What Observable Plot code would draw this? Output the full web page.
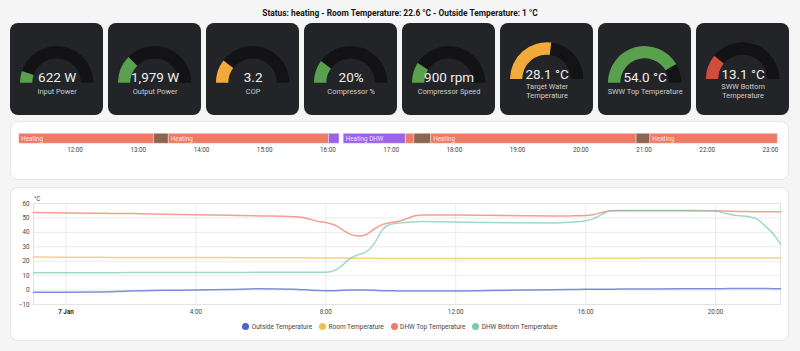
<!DOCTYPE html>
<html><head><meta charset="utf-8">
<script src="https://cdn.jsdelivr.net/npm/d3@7"></script>
<script src="https://cdn.jsdelivr.net/npm/@observablehq/plot@0.6"></script>
<style>
html,body{margin:0;padding:0;}
body{width:800px;height:351px;background:#f5f5f5;font-family:Roboto,sans-serif;position:relative;overflow:hidden;}
#title{position:absolute;left:0;top:8px;width:800px;text-align:center;font-size:8.4px;line-height:10px;font-weight:700;color:#141414;}
#gauges{position:absolute;left:10px;top:23px;width:779px;height:92px;display:grid;grid-template-columns:repeat(8,1fr);column-gap:4.7px;}
.gcard{background:#232428;border-radius:8px;overflow:hidden;height:92px;}
.gcard svg{display:block;}
.panel{position:absolute;left:10px;width:779px;background:#fff;border:1px solid #e6e6e6;border-radius:8px;box-sizing:border-box;}
#tlp{top:121px;height:58.5px;}
#lcp{top:187px;height:154px;}
#timeline,#linechart{position:absolute;left:0;}
#timeline{top:121px}
#linechart{top:187px}
#legend{position:absolute;top:322.5px;left:0;width:800px;display:flex;justify-content:center;gap:7px;font-size:6.5px;line-height:8px;color:#444;}
.li{display:flex;align-items:center;gap:2.3px;}
.dot{width:7px;height:7px;border-radius:50%;}
</style></head>
<body>
<div id="title"></div>
<div id="gauges"></div>
<div class="panel" id="tlp"></div>
<div class="panel" id="lcp"></div>
<div id="timeline"></div>
<div id="linechart"></div>
<div id="legend"></div>
<script>
// ---------- data ----------
const titleText = "Status: heating - Room Temperature: 22.6 °C - Outside Temperature: 1 °C";

const gaugeLabels = ["Input Power", "Output Power", "COP", "Compressor %", "Compressor Speed", "Target Water\nTemperature", "SWW Top Temperature", "SWW Bottom\nTemperature"];
const gaugeValues = [622, 1979, 3.2, 20, 900, 28.1, 54.0, 13.1];
const gaugeMax = [6000, 8000, 15.5, 100, 5000, 52, 65, 60];
const gaugeDecimals = [0, 0, 1, 0, 0, 1, 1, 1];
const gaugeUnits = [" W", " W", "", "%", " rpm", " °C", " °C", " °C"];
const gaugeColors = ["#59a14f", "#59a14f", "#f2aa3a", "#59a14f", "#59a14f", "#f2aa3a", "#59a14f", "#d24b3c"];

const timelineStart = ["11:07", "13:15", "13:29", "16:01", "16:15", "17:14", "17:22", "17:38", "20:53", "21:06"];
const timelineEnd   = ["13:15", "13:29", "16:01", "16:11", "17:14", "17:22", "17:38", "20:53", "21:06", "23:07"];
const timelineState = ["Heating", "Defrosting", "Heating", "Heating DHW", "Heating DHW", "Heating", "Defrosting", "Heating", "Defrosting", "Heating"];
const stateNames = ["Heating", "Heating DHW", "Defrosting"];
const stateColors = ["#ee7a65", "#9c63ea", "#8d6550"];
const timelineTicks = ["12:00","13:00","14:00","15:00","16:00","17:00","18:00","19:00","20:00","21:00","22:00","23:00"];

const seriesNames = ["Outside Temperature", "Room Temperature", "DHW Top Temperature", "DHW Bottom Temperature"];
const seriesColors = ["#4a64d2", "#f1c14e", "#ef7a66", "#7ccbae"];
// hours relative to 7 Jan 00:00
const hours = [-1, 0, 1, 2, 3, 4, 5, 6, 7, 7.25, 7.5, 7.75, 8, 8.25, 8.5, 8.75, 9, 9.25, 9.5, 9.75, 10, 10.25, 10.5, 10.75, 11, 12, 13, 14, 15, 15.5, 16, 16.25, 16.5, 16.75, 17, 18, 19, 20, 20.25, 20.5, 20.75, 21, 21.25, 21.5, 21.75, 22];
const outsideTemp = [-1.5, -1.5, -1.3, -0.6, -0.2, 0, 0.4, 0.9, 0.6, 0.3, 0, -0.3, -0.5, -0.4, -0.2, 0, 0, 0, -0.2, -0.4, -0.5, -0.6, -0.6, -0.6, -0.6, -0.6, -0.3, 0, 0.3, 0.4, 0.5, 0.5, 0.6, 0.6, 0.7, 0.8, 0.9, 1, 1, 1.1, 1.1, 1.1, 1.1, 1.1, 1, 1];
const roomTemp = [23, 22.8, 22.7, 22.6, 22.6, 22.5, 22.5, 22.4, 22.4, 22.4, 22.3, 22.3, 22.3, 22.2, 22.2, 22.1, 22.1, 22, 22, 21.9, 21.9, 21.8, 21.8, 21.8, 21.8, 21.8, 21.8, 21.8, 21.9, 21.9, 21.9, 22, 22, 22, 22, 22.2, 22.3, 22.3, 22.3, 22.3, 22.3, 22.3, 22.3, 22.3, 22.3, 22.3];
const dhwTop = [53.8, 53.5, 53.2, 53, 52.6, 52.2, 51.8, 51.4, 50.9, 50.5, 49.2, 47.6, 46.8, 45.3, 42, 38.8, 37.4, 38.5, 42.5, 45.5, 46.8, 47.7, 49.5, 51.5, 52, 52, 51.8, 51.5, 51.3, 51.4, 51.6, 52.3, 53.8, 55, 55.2, 55.2, 55.1, 55, 54.8, 54.6, 54.5, 54.4, 54.3, 54.3, 54.2, 54.2];
const dhwBottom = [12, 12, 12, 12.1, 12.1, 12.2, 12.2, 12.3, 12.3, 12.3, 12.3, 12.3, 12.4, 13.5, 17, 22, 24.6, 26.5, 32.5, 42, 45.6, 46.4, 47, 47.4, 47.5, 47.1, 46.8, 46.6, 46.5, 47, 48, 49.5, 52.5, 54.8, 55, 55, 54.9, 54.8, 53.5, 52.2, 51.5, 51, 49.5, 45, 39.5, 32];
const yTicks = [-10, 0, 10, 20, 30, 40, 50, 60];
const xTickHours = [0, 4, 8, 12, 16, 20];
const lineDomainHours = [-1, 22];

// ---------- helpers ----------
const base = new Date(2024, 0, 7, 0, 0);
const atHour = h => new Date(base.getTime() + h * 3600e3);
const atClock = s => { const [h, m] = s.split(":").map(Number); return new Date(2024, 0, 7, h, m); };
const fontFamily = "Roboto, sans-serif";

document.getElementById("title").textContent = titleText;

// ---------- gauges ----------
const gaugesDiv = document.getElementById("gauges");
gaugeLabels.forEach((label, i) => {
  const card = document.createElement("div");
  card.className = "gcard";
  gaugesDiv.appendChild(card);
  const W = 93.26, H = 92;
  const lines = label.split("\n").length;
  const shift = lines > 1 ? -3.7 : 0;
  const cy = 59.7 + shift;
  const angle = d3.scaleLinear([0, gaugeMax[i]], [-Math.PI / 2, Math.PI / 2]).clamp(true);
  const arc = d3.arc().innerRadius(24.3).outerRadius(36.7);
  const fmt = d3.format(gaugeDecimals[i] ? `,.${gaugeDecimals[i]}f` : ",");
  const gaugeMark = () => {
    const g = d3.create("svg:g").attr("transform", `translate(${W / 2},${cy})`);
    g.append("path").attr("d", arc({startAngle: -Math.PI / 2, endAngle: Math.PI / 2})).attr("fill", "#131315");
    g.append("path").attr("d", arc({startAngle: -Math.PI / 2, endAngle: angle(gaugeValues[i])})).attr("fill", gaugeColors[i]);
    return g.node();
  };
  const p = Plot.plot({
    width: W, height: H, margin: 0,
    style: {background: "transparent", fontFamily, overflow: "visible"},
    marks: [
      gaugeMark,
      Plot.text([fmt(gaugeValues[i]) + gaugeUnits[i]], {frameAnchor: "top", dy: 59 + shift, lineAnchor: "bottom", fill: "#eeeeee", fontSize: 13.5}),
      Plot.text([label], {frameAnchor: "top", dy: lines > 1 ? 74.3 : 70.3, lineAnchor: "bottom", lineHeight: 1.15, fill: "#cfcfcf", fontSize: 7.4})
    ]
  });
  card.appendChild(p);
});

// ---------- timeline ----------
const segs = timelineStart.map((s, i) => ({start: atClock(s), end: atClock(timelineEnd[i]), state: timelineState[i]}));
const tl = Plot.plot({
  width: 800, height: 40,
  marginLeft: 18.7, marginRight: 22.7, marginTop: 12.3, marginBottom: 17.7,
  style: {background: "transparent", fontFamily, fontSize: "6.3px", color: "#444"},
  x: {type: "time", domain: [atClock("11:07"), atClock("23:07")], ticks: timelineTicks.map(atClock), tickFormat: d3.timeFormat("%H:%M"), tickSize: 0, tickPadding: 4, label: null},
  color: {domain: stateNames, range: stateColors},
  marks: [
    Plot.barX(segs, {x1: "start", x2: "end", fill: "state", stroke: "#fff", strokeOpacity: 0.35, strokeWidth: 1}),
    Plot.text(segs.filter(d => d.end - d.start > 30 * 60e3), {x: "start", text: "state", textAnchor: "start", dx: 2, frameAnchor: "middle", fill: "#fff", fillOpacity: 0.85, fontSize: 6.3})
  ]
});
document.getElementById("timeline").appendChild(tl);

// ---------- line chart ----------
const rows = [];
[outsideTemp, roomTemp, dhwTop, dhwBottom].forEach((arr, k) => {
  arr.forEach((v, j) => rows.push({time: atHour(hours[j]), value: v, series: seriesNames[k]}));
});
const tickFmt = d => (d.getHours() === 0 ? d3.timeFormat("%-d %b")(d) : d3.timeFormat("%-H:%M")(d));
const lc = Plot.plot({
  width: 800, height: 140,
  marginLeft: 33, marginRight: 20, marginTop: 16, marginBottom: 23,
  style: {background: "transparent", fontFamily, fontSize: "6.3px", color: "#444"},
  x: {type: "time", domain: lineDomainHours.map(atHour), ticks: xTickHours.map(atHour), tickFormat: tickFmt, tickSize: 0, tickPadding: 5, label: null, grid: true},
  y: {domain: [-10, 60], ticks: yTicks, tickSize: 0, tickPadding: 4, label: null, grid: true},
  color: {domain: seriesNames, range: seriesColors},
  marks: [
    Plot.frame({stroke: "#e3e3e3"}),
    Plot.line(rows, {x: "time", y: "value", z: "series", stroke: "series", strokeWidth: 1.5, strokeOpacity: 0.72, curve: "monotone-x"}),
    Plot.text(["°C"], {frameAnchor: "top-left", dy: -2.5, dx: 0.5, lineAnchor: "bottom", textAnchor: "start", fill: "#444", fontSize: 6.3})
  ]
});
d3.select(lc).selectAll("text").filter(function () { return this.textContent === "7 Jan"; }).attr("font-weight", "bold").attr("fill", "#222");
document.getElementById("linechart").appendChild(lc);

// ---------- legend ----------
const legend = d3.select("#legend");
seriesNames.forEach((n, k) => {
  const it = legend.append("div").attr("class", "li");
  it.append("div").attr("class", "dot").style("background", seriesColors[k]);
  it.append("span").text(n);
});
</script>
</body></html>
